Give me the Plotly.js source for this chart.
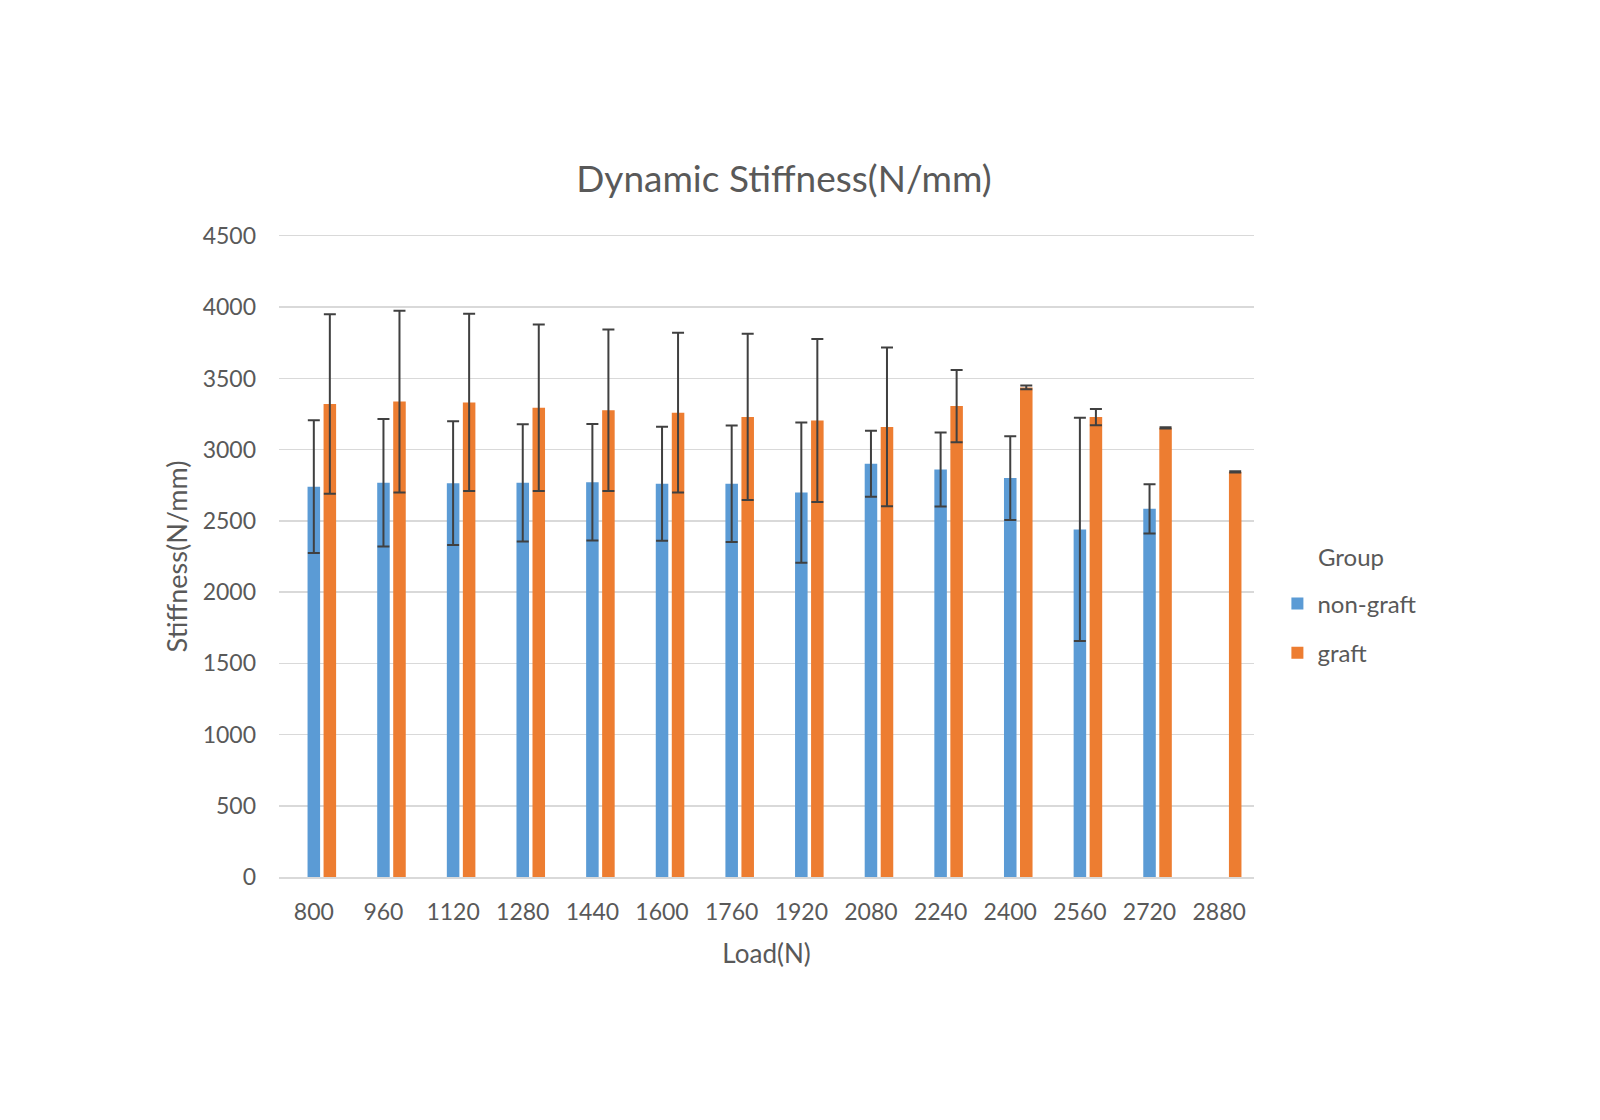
<!DOCTYPE html>
<html>
<head>
<meta charset="utf-8">
<script src="https://cdn.plot.ly/plotly-3.0.1.min.js"></script>
<style>
  html, body { margin: 0; padding: 0; background: #fff; }
  #chart { width: 1600px; height: 1120px; }
</style>
</head>
<body>
<div id="chart"></div>
<script>
// ─── data ────────────────────────────────────────────────────
var loads = ['800', '960', '1120', '1280', '1440', '1600', '1760',
             '1920', '2080', '2240', '2400', '2560', '2720', '2880'];

var nonGraft    = [2740, 2768, 2765, 2767, 2772, 2761, 2761, 2699, 2901, 2861, 2801, 2440, 2585, null];
var nonGraftErr = [466, 448, 434, 412, 409, 400, 409, 492, 232, 260, 294, 784, 173, null];

var graft    = [3320, 3338, 3332, 3294, 3276, 3260, 3230, 3205, 3160, 3306, 3437, 3229, 3153, 2844];
var graftErr = [630, 638, 623, 585, 567, 560, 584, 572, 558, 254, 13, 57, 4, 4];

var FONT = 'Lato, "Open Sans", sans-serif';
var TEXT = '#595959';
var GRID = '#d9d9d9';

function errStyle(arr) {
  return { type: 'data', array: arr, visible: true, color: '#404040', thickness: 2, width: 6 };
}

var traces = [
  {
    type: 'bar', name: 'non-graft', x: loads, y: nonGraft,
    width: 0.18, offset: -0.09,
    marker: { color: '#5b9bd5', line: { width: 0 } },
    error_y: errStyle(nonGraftErr),
    legendgroup: 'a'
  },
  {
    type: 'bar', name: 'graft', x: loads, y: graft,
    width: 0.18, offset: 0.14,
    marker: { color: '#ed7d31', line: { width: 0 } },
    error_y: errStyle(graftErr),
    legendgroup: 'b'
  }
];

var layout = {
  width: 1600, height: 1120,
  paper_bgcolor: '#fff', plot_bgcolor: '#fff',
  margin: { l: 279, r: 346, t: 236, b: 243 },
  font: { family: FONT, color: TEXT, size: 23 },
  barmode: 'overlay',
  title: {
    text: 'Dynamic Stiffness(N/mm)',
    font: { family: FONT, size: 37, color: TEXT },
    x: 0.49, xanchor: 'center', y: 0.840, yanchor: 'middle'
  },
  xaxis: {
    type: 'category',
    range: [-0.5, 13.5],
    showgrid: false, zeroline: false,
    // mirrored line doubles as the 4500 gridline at the top edge
    showline: true, mirror: true, linecolor: GRID, linewidth: 1.5,
    ticks: '', ticklabelstandoff: 14,
    tickfont: { size: 23, color: TEXT },
    title: { text: 'Load(N)', font: { size: 26, color: TEXT }, standoff: 20 }
  },
  yaxis: {
    range: [0, 4500], dtick: 500, tick0: 0,
    showgrid: true, gridcolor: GRID, gridwidth: 1.5,
    zeroline: false, showline: false,
    ticks: '', ticklabelstandoff: 22,
    tickfont: { size: 23, color: TEXT },
    title: { text: 'Stiffness(N/mm)', font: { size: 27, color: TEXT }, standoff: 7 }
  },
  showlegend: true,
  legend: {
    x: 1.024, xanchor: 'left', y: 0.461, yanchor: 'top',
    traceorder: 'grouped', tracegroupgap: 15,
    font: { size: 24, color: TEXT },
    bgcolor: 'rgba(0,0,0,0)'
  },
  annotations: [{
    text: 'Group', xref: 'paper', yref: 'paper',
    x: 1.064, xanchor: 'left', y: 0.475, yanchor: 'bottom',
    showarrow: false, font: { size: 24, color: TEXT }
  }]
};

Plotly.newPlot('chart', traces, layout, { staticPlot: true, displayModeBar: false });
</script>
</body>
</html>
